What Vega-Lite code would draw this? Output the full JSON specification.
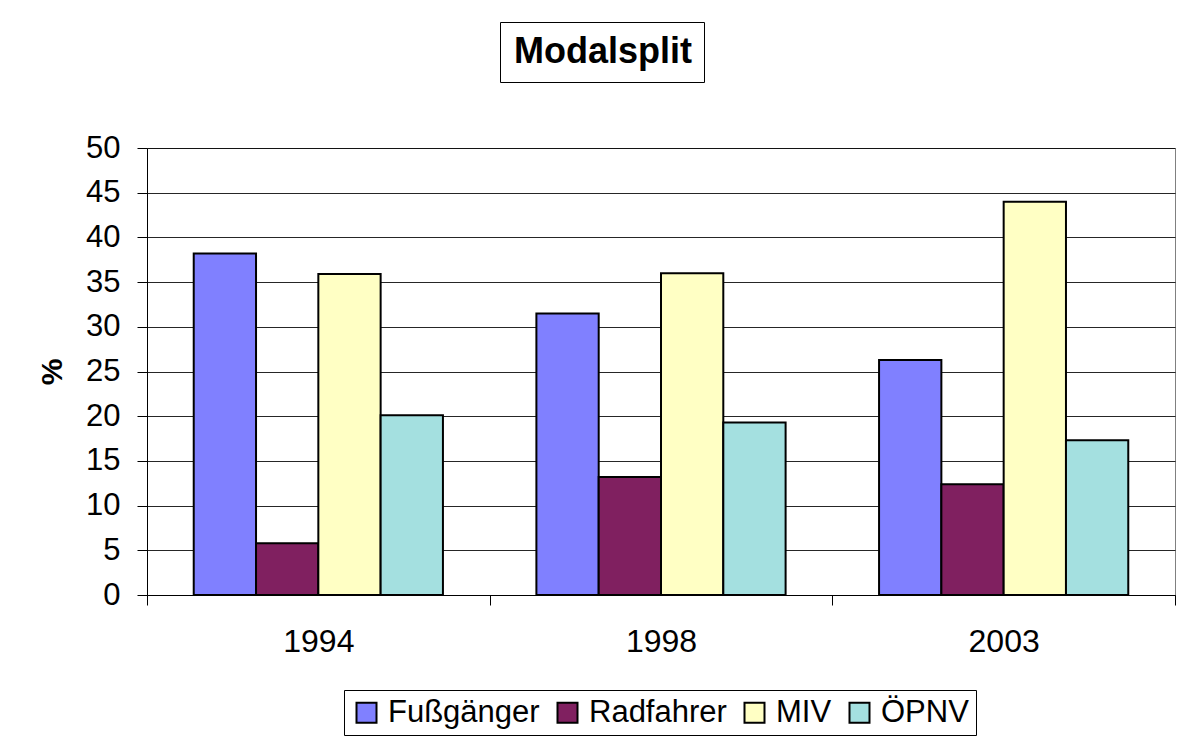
{
  "$schema": "https://vega.github.io/schema/vega-lite/v6.json",
  "autosize": {"type": "none"},
  "width": 1028,
  "height": 447,
  "padding": {"left": 147, "top": 148, "right": 20, "bottom": 147},
  "background": "white",
  "data": {
    "values": [
      {"Jahr": "1994", "Modus": "Fußgänger", "Wert": 38.2},
      {"Jahr": "1994", "Modus": "Radfahrer", "Wert": 5.8},
      {"Jahr": "1994", "Modus": "MIV", "Wert": 35.9},
      {"Jahr": "1994", "Modus": "ÖPNV", "Wert": 20.1},
      {"Jahr": "1998", "Modus": "Fußgänger", "Wert": 31.5},
      {"Jahr": "1998", "Modus": "Radfahrer", "Wert": 13.2},
      {"Jahr": "1998", "Modus": "MIV", "Wert": 36.0},
      {"Jahr": "1998", "Modus": "ÖPNV", "Wert": 19.3},
      {"Jahr": "2003", "Modus": "Fußgänger", "Wert": 26.3},
      {"Jahr": "2003", "Modus": "Radfahrer", "Wert": 12.4},
      {"Jahr": "2003", "Modus": "MIV", "Wert": 44.0},
      {"Jahr": "2003", "Modus": "ÖPNV", "Wert": 17.3}
    ]
  },
  "encoding": {
    "x": {
      "field": "Jahr",
      "type": "nominal",
      "scale": {"paddingInner": 0, "paddingOuter": 0},
      "axis": {
        "title": null,
        "labelAngle": 0,
        "tickBand": "extent",
        "tickSize": 10,
        "tickColor": "black",
        "domainColor": "black",
        "labelFont": "Liberation Sans",
        "labelFontSize": 32,
        "labelColor": "black",
        "labelPadding": 21,
        "labelBaseline": "top"
      }
    },
    "y": {
      "field": "Wert",
      "type": "quantitative",
      "scale": {"domain": [0, 50]},
      "axis": {
        "title": "%",
        "titleFont": "Liberation Sans",
        "titleFontSize": 30,
        "titleFontWeight": "bold",
        "titleColor": "black",
        "titlePadding": 18,
        "values": [0, 5, 10, 15, 20, 25, 30, 35, 40, 45, 50],
        "tickSize": 10,
        "tickColor": "black",
        "domainColor": "black",
        "grid": true,
        "gridColor": "black",
        "gridOpacity": 0.85,
        "labelFont": "Liberation Sans",
        "labelFontSize": 31,
        "labelColor": "black",
        "labelPadding": 17
      }
    }
  },
  "layer": [
    {
      "mark": {"type": "bar", "stroke": "black", "strokeWidth": 2},
      "encoding": {
        "xOffset": {
          "field": "Modus",
          "type": "nominal",
          "sort": ["Fußgänger", "Radfahrer", "MIV", "ÖPNV"],
          "scale": {"paddingInner": 0, "paddingOuter": 0.75}
        },
        "color": {
          "field": "Modus",
          "type": "nominal",
          "scale": {
            "domain": ["Fußgänger", "Radfahrer", "MIV", "ÖPNV"],
            "range": ["#8080FF", "#802060", "#FFFFC4", "#A4E0E0"]
          },
          "legend": {
            "title": null,
            "orient": "none",
            "direction": "horizontal",
            "legendX": 197,
            "legendY": 542,
            "symbolType": "square",
            "symbolSize": 400,
            "symbolStrokeColor": "black",
            "symbolStrokeWidth": 2,
            "symbolOpacity": 1,
            "labelFont": "Liberation Sans",
            "labelFontSize": 31,
            "labelColor": "black",
            "labelOffset": 6,
            "columnPadding": 12,
            "strokeColor": "black",
            "padding": 7
          }
        }
      }
    },
    {
      "mark": {"type": "point", "opacity": 0},
      "encoding": {
        "shape": {
          "datum": "Modalsplit",
          "legend": {
            "title": null,
            "orient": "none",
            "legendX": 353,
            "legendY": -126,
            "symbolSize": 0.01,
            "symbolOpacity": 0,
            "symbolStrokeWidth": 0,
            "labelOffset": -34,
            "labelFont": "Liberation Sans",
            "labelFontSize": 36,
            "labelFontWeight": "bold",
            "labelColor": "black",
            "labelLimit": 400,
            "strokeColor": "black",
            "padding": 12
          }
        }
      }
    }
  ],
  "config": {
    "view": {"stroke": "#808080", "strokeWidth": 1}
  }
}
